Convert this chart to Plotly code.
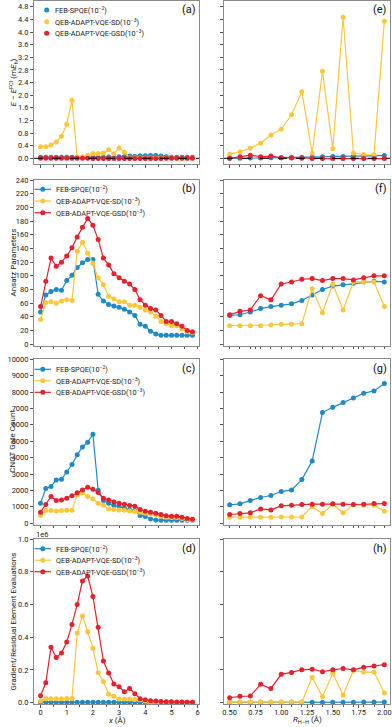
import plotly.graph_objects as go

# separation x (Angstrom) for left column, R_H-H for right column
x_sep = [0.0, 0.2, 0.4, 0.6, 0.8, 1.0, 1.2, 1.4, 1.6, 1.8, 2.0, 2.2, 2.4, 2.6, 2.8,
         3.0, 3.2, 3.4, 3.6, 3.8, 4.0, 4.2, 4.4, 4.6, 4.8, 5.0, 5.2, 5.4, 5.6, 5.8]
r_hh = [0.5, 0.6, 0.7, 0.8, 0.9, 1.0, 1.1, 1.2, 1.3, 1.4, 1.5, 1.6, 1.7, 1.8, 1.9, 2.0]

names = ['FEB-SPQE(10<sup>−2</sup>)', 'QEB-ADAPT-VQE-SD(10<sup>−3</sup>)',
         'QEB-ADAPT-VQE-GSD(10<sup>−3</sup>)']
colors = ['#1f8ac4', '#fcc73b', '#e3212f']

# (a) / (e) energy error, mE_h
err_feb = [0.03, 0.03, 0.03, 0.03, 0.03, 0.03, 0.03, 0.03, 0.03, 0.03, 0.03, 0.03, 0.03, 0.04, 0.04,
           0.05, 0.06, 0.07, 0.06, 0.08, 0.08, 0.09, 0.09, 0.07, 0.05, 0.03, 0.03, 0.03, 0.03, 0.03]
err_sd = [0.37, 0.37, 0.42, 0.52, 0.70, 1.08, 1.84, 0.03, 0.05, 0.10, 0.15, 0.15, 0.17, 0.27, 0.14,
          0.33, 0.19, 0.01, 0.01, 0.01, 0.01, 0.01, 0.01, 0.01, 0.01, 0.01, 0.00, 0.00, 0.00, 0.00]
err_gsd = [0.00, 0.00, 0.00, 0.00, 0.00, 0.00, 0.00, 0.00, 0.00, 0.00, -0.01, -0.01, -0.01, -0.01, -0.01,
           -0.01, -0.01, -0.01, -0.01, -0.01, -0.01, -0.01, -0.01, -0.01, 0.00, 0.00, 0.00, 0.00, 0.00, 0.00]
err_feb_r = [0.00, 0.00, 0.01, 0.01, 0.02, 0.02, 0.03, 0.03, 0.04, 0.05, 0.06, 0.06, 0.07, 0.07, 0.08, 0.09]
err_sd_r = [0.13, 0.21, 0.32, 0.48, 0.74, 0.92, 1.38, 2.11, 0.16, 2.76, 0.30, 4.47, 0.17, 0.12, 0.11, 4.34]
err_gsd_r = [0.00, 0.05, 0.10, 0.05, 0.07, 0.02, 0.01, 0.00, -0.01, -0.01, -0.01, -0.01, -0.01, -0.01, -0.01, -0.01]

# (b) / (f) ansatz parameters
par_feb = [47, 72, 77, 80, 79, 93, 101, 112, 119, 124, 124, 73, 63, 58, 56,
           54, 51, 47, 42, 29, 26, 19, 15, 13, 13, 13, 13, 13, 13, 13]
par_sd = [36, 61, 62, 60, 63, 65, 64, 136, 149, 133, 118, 97, 87, 70, 66,
          62, 62, 57, 57, 54, 50, 47, 41, 33, 30, 27, 27, 22, 18, 17]
par_gsd = [55, 92, 126, 114, 120, 129, 141, 157, 171, 184, 174, 153, 126, 116, 103,
           97, 92, 88, 80, 65, 57, 52, 50, 42, 33, 33, 30, 26, 20, 18]
par_feb_r = [42, 43, 47, 52, 55, 57, 59, 64, 72, 80, 85, 87, 89, 91, 92, 91]
par_sd_r = [27, 27, 27, 27, 28, 29, 29, 30, 81, 46, 88, 50, 91, 91, 91, 55]
par_gsd_r = [43, 48, 50, 71, 65, 88, 91, 95, 96, 93, 96, 96, 94, 97, 100, 100]

# (c) / (g) CNOT gate count
cnot_feb = [1220, 2110, 2240, 2640, 2680, 3130, 3580, 4170, 4650, 4940, 5430, 2010, 1380, 1220, 1080,
            1020, 920, 810, 770, 470, 410, 260, 200, 180, 180, 180, 180, 180, 180, 180]
cnot_sd = [470, 770, 770, 750, 770, 790, 790, 1730, 1850, 1630, 1480, 1220, 1100, 870, 830,
           810, 790, 750, 710, 670, 610, 570, 510, 410, 370, 350, 350, 290, 220, 200]
cnot_gsd = [670, 1140, 1630, 1380, 1420, 1520, 1670, 1850, 2030, 2200, 2070, 1870, 1520, 1420, 1300,
            1220, 1160, 1080, 1040, 830, 730, 670, 610, 530, 450, 430, 430, 370, 290, 240]
cnot_feb_r = [1120, 1180, 1380, 1570, 1690, 1930, 2030, 2660, 3800, 6750, 7070, 7360, 7640, 7930, 8070, 8520]
cnot_sd_r = [370, 370, 370, 370, 370, 380, 380, 380, 1020, 590, 1160, 630, 1120, 1100, 1100, 730]
cnot_gsd_r = [530, 590, 630, 870, 810, 1060, 1100, 1140, 1160, 1160, 1180, 1160, 1140, 1160, 1200, 1200]

# (d) / (h) gradient / residual element evaluations
ev_feb = [3000, 3000, 3000, 3000, 3000, 3000, 3000, 3000, 3000, 3000, 3000, 3000, 3000, 3000, 3000,
          3000, 3000, 3000, 3000, 3000, 2500, 2500, 2500, 2500, 2500, 2500, 2500, 2500, 2500, 2500]
ev_sd = [10000, 24000, 24000, 24000, 24000, 26000, 26000, 425000, 530000, 433000, 333000, 183000, 130000, 51000, 39000,
         22000, 22000, 22000, 20000, 18000, 10000, 6000, 5000, 4000, 4000, 3000, 3000, 3000, 2000, 2000]
ev_gsd = [43000, 122000, 339000, 276000, 303000, 370000, 478000, 600000, 744000, 774000, 648000, 461000, 254000, 181000, 114000,
          98000, 67000, 87000, 55000, 24000, 18000, 12000, 10000, 8000, 6000, 5000, 4000, 4000, 3000, 3000]
ev_feb_r = [2000, 2000, 2000, 2100, 2200, 2300, 2400, 2500, 2700, 2900, 3000, 3200, 3300, 3500, 3700, 3900]
ev_sd_r = [4000, 4000, 4000, 4000, 4000, 4000, 4000, 4000, 154000, 37000, 179000, 47000, 197000, 187000, 187000, 59000]
ev_gsd_r = [30000, 39000, 41000, 112000, 87000, 173000, 185000, 201000, 205000, 189000, 201000, 209000, 201000, 217000, 224000, 232000]

panels = [
    ('x', 'y', x_sep, [err_feb, err_sd, err_gsd]),
    ('x2', 'y2', r_hh, [err_feb_r, err_sd_r, err_gsd_r]),
    ('x3', 'y3', x_sep, [par_feb, par_sd, par_gsd]),
    ('x4', 'y4', r_hh, [par_feb_r, par_sd_r, par_gsd_r]),
    ('x5', 'y5', x_sep, [cnot_feb, cnot_sd, cnot_gsd]),
    ('x6', 'y6', r_hh, [cnot_feb_r, cnot_sd_r, cnot_gsd_r]),
    ('x7', 'y7', x_sep, [ev_feb, ev_sd, ev_gsd]),
    ('x8', 'y8', r_hh, [ev_feb_r, ev_sd_r, ev_gsd_r]),
]

W, H = 392, 727
FONT = 'Roboto'

fig = go.Figure()
for xa, ya, xs, series in panels:
    for i, ys in enumerate(series):
        fig.add_trace(go.Scatter(
            x=xs, y=ys, xaxis=xa, yaxis=ya, mode='lines+markers', name=names[i],
            line=dict(color=colors[i], width=1.2),
            marker=dict(color=colors[i], size=5), showlegend=False))

# pixel boxes of the panels
left_dom = [34 / W, 199 / W]
right_dom = [224 / W, 390 / W]
rows_px = [(0.5, 164.3), (179.5, 345.5), (359, 524.5), (539, 704)]
y_doms = [[1 - b / H, 1 - t / H] for t, b in rows_px]

y_ranges = [[-0.19, 5.0], [-2, 241], [-80, 10020], [-8000, 1.0e6]]

axis_common = dict(showline=True, mirror=True, linecolor='#8a8a8a', linewidth=1,
                   ticks='outside', ticklen=3, tickcolor='#555', showgrid=False,
                   zeroline=False, automargin=False,
                   tickfont=dict(family=FONT, size=7.5, color='#222'))

layout = {}
for r in range(4):
    for c in range(2):
        n = r * 2 + c + 1
        sfx = '' if n == 1 else str(n)
        xa = dict(axis_common, domain=left_dom if c == 0 else right_dom,
                  anchor='y' + sfx, showticklabels=(r == 3), ticklen=2.5,
                  ticklabelstandoff=-2)
        if c == 0:
            xa.update(range=[-0.25, 6.05], tickmode='array', tickvals=[0, 1, 2, 3, 4, 5, 6],
                      minor=dict(ticks='outside', ticklen=2, dtick=0.5, tick0=0, tickcolor='#555'))
        else:
            xa.update(range=[0.445, 2.055], tickmode='array',
                      tickvals=[0.5, 0.75, 1.0, 1.25, 1.5, 1.75, 2.0],
                      ticktext=['0.50', '0.75', '1.00', '1.25', '1.50', '1.75', '2.00'],
                      minor=dict(ticks='outside', ticklen=2, dtick=0.1, tick0=0.5, tickcolor='#555'))
        ya = dict(axis_common, domain=y_doms[r], anchor='x' + sfx, range=y_ranges[r],
                  showticklabels=(c == 0))
        if r == 0:
            ya.update(dtick=0.4, tick0=0, tickformat='.1f')
        elif r == 1:
            ya.update(dtick=20, tick0=0)
        elif r == 2:
            ya.update(dtick=1000, tick0=0, tickformat='d')
        else:
            ya.update(tickmode='array', tickvals=[0, 2e5, 4e5, 6e5, 8e5, 1e6],
                      ticktext=['0.0', '0.2', '0.4', '0.6', '0.8', '1.0'])
        layout['xaxis' + sfx] = xa
        layout['yaxis' + sfx] = ya

fig.update_layout(**layout)

# dashed zero reference in the energy panels
for xa, ya in (('x', 'y'), ('x2', 'y2')):
    fig.add_shape(type='line', xref=xa + ' domain', yref=ya, x0=0, x1=1, y0=0, y1=0,
                  line=dict(color='black', width=1, dash='dash'), layer='above')

# compact legends in the left panels (panel (a) shows markers only)
legend_rows = [(10, 21.7, 33.3), (189.3, 201, 212.7), (369.3, 380.8, 392.3), (548.7, 560.2, 571.7)]
for r, ys_px in enumerate(legend_rows):
    for i, yc in enumerate(ys_px):
        yp = 1 - yc / H
        mx = 46.7 if r == 0 else 42.8
        if r > 0:
            fig.add_shape(type='line', xref='paper', yref='paper', x0=34.5 / W, x1=51 / W,
                          y0=yp, y1=yp, line=dict(color=colors[i], width=1.2))
        rad = 2.5
        fig.add_shape(type='circle', xref='paper', yref='paper',
                      x0=(mx - rad) / W, x1=(mx + rad) / W,
                      y0=1 - (yc + rad) / H, y1=1 - (yc - rad) / H,
                      fillcolor=colors[i], line=dict(width=0))
        fig.add_annotation(text=names[i], xref='paper', yref='paper',
                           x=(53 if r == 0 else 54) / W, y=yp, xanchor='left', yanchor='middle',
                           showarrow=False, font=dict(family=FONT, size=7.3, color='#222'))

# panel letters
letters = ['(a)', '(e)', '(b)', '(f)', '(c)', '(g)', '(d)', '(h)']
for n, lab in enumerate(letters, start=1):
    sfx = '' if n == 1 else str(n)
    fig.add_annotation(text=lab, xref='x' + sfx + ' domain', yref='y' + sfx + ' domain',
                       x=0.995, y=0.995, xanchor='right', yanchor='top', showarrow=False,
                       font=dict(family=FONT, size=11, color='#111'))

# y-axis titles
y_titles = ['<i>E</i> − <i>E</i><sup>FCI</sup> (m<i>E</i><sub>h</sub>)', 'Ansatz Parameters',
            'CNOT Gate Count', 'Gradient/Residual Element Evaluations']
for title, dom in zip(y_titles, y_doms):
    fig.add_annotation(text=title, xref='paper', yref='paper', x=13 / W, y=(dom[0] + dom[1]) / 2,
                       textangle=-90, showarrow=False, xanchor='center', yanchor='middle',
                       font=dict(family=FONT, size=8, color='#222'))

# x-axis titles
fig.add_annotation(text='<i>x</i> (Å)', xref='paper', yref='paper', x=(left_dom[0] + left_dom[1]) / 2,
                   y=0, showarrow=False, xanchor='center', yanchor='bottom',
                   font=dict(family=FONT, size=8, color='#222'))
fig.add_annotation(text='<i>R</i><sub>H−H</sub> (Å)', xref='paper', yref='paper',
                   x=(right_dom[0] + right_dom[1]) / 2, y=0, showarrow=False,
                   xanchor='center', yanchor='bottom', font=dict(family=FONT, size=8, color='#222'))

# offset text of the bottom-left panel
fig.add_annotation(text='1e6', xref='paper', yref='paper', x=34 / W, y=1 - 534 / H, showarrow=False,
                   xanchor='left', yanchor='middle', font=dict(family=FONT, size=7.5, color='#222'))

fig.update_layout(width=W, height=H, margin=dict(l=0, r=0, t=0, b=0),
                  paper_bgcolor='white', plot_bgcolor='white',
                  font=dict(family=FONT, size=8, color='#222'))

# drop the default body margin so the figure sits at the page origin
fig.write_html('out.html', config={'displayModeBar': False},
               post_script="document.body.style.margin='0';")
